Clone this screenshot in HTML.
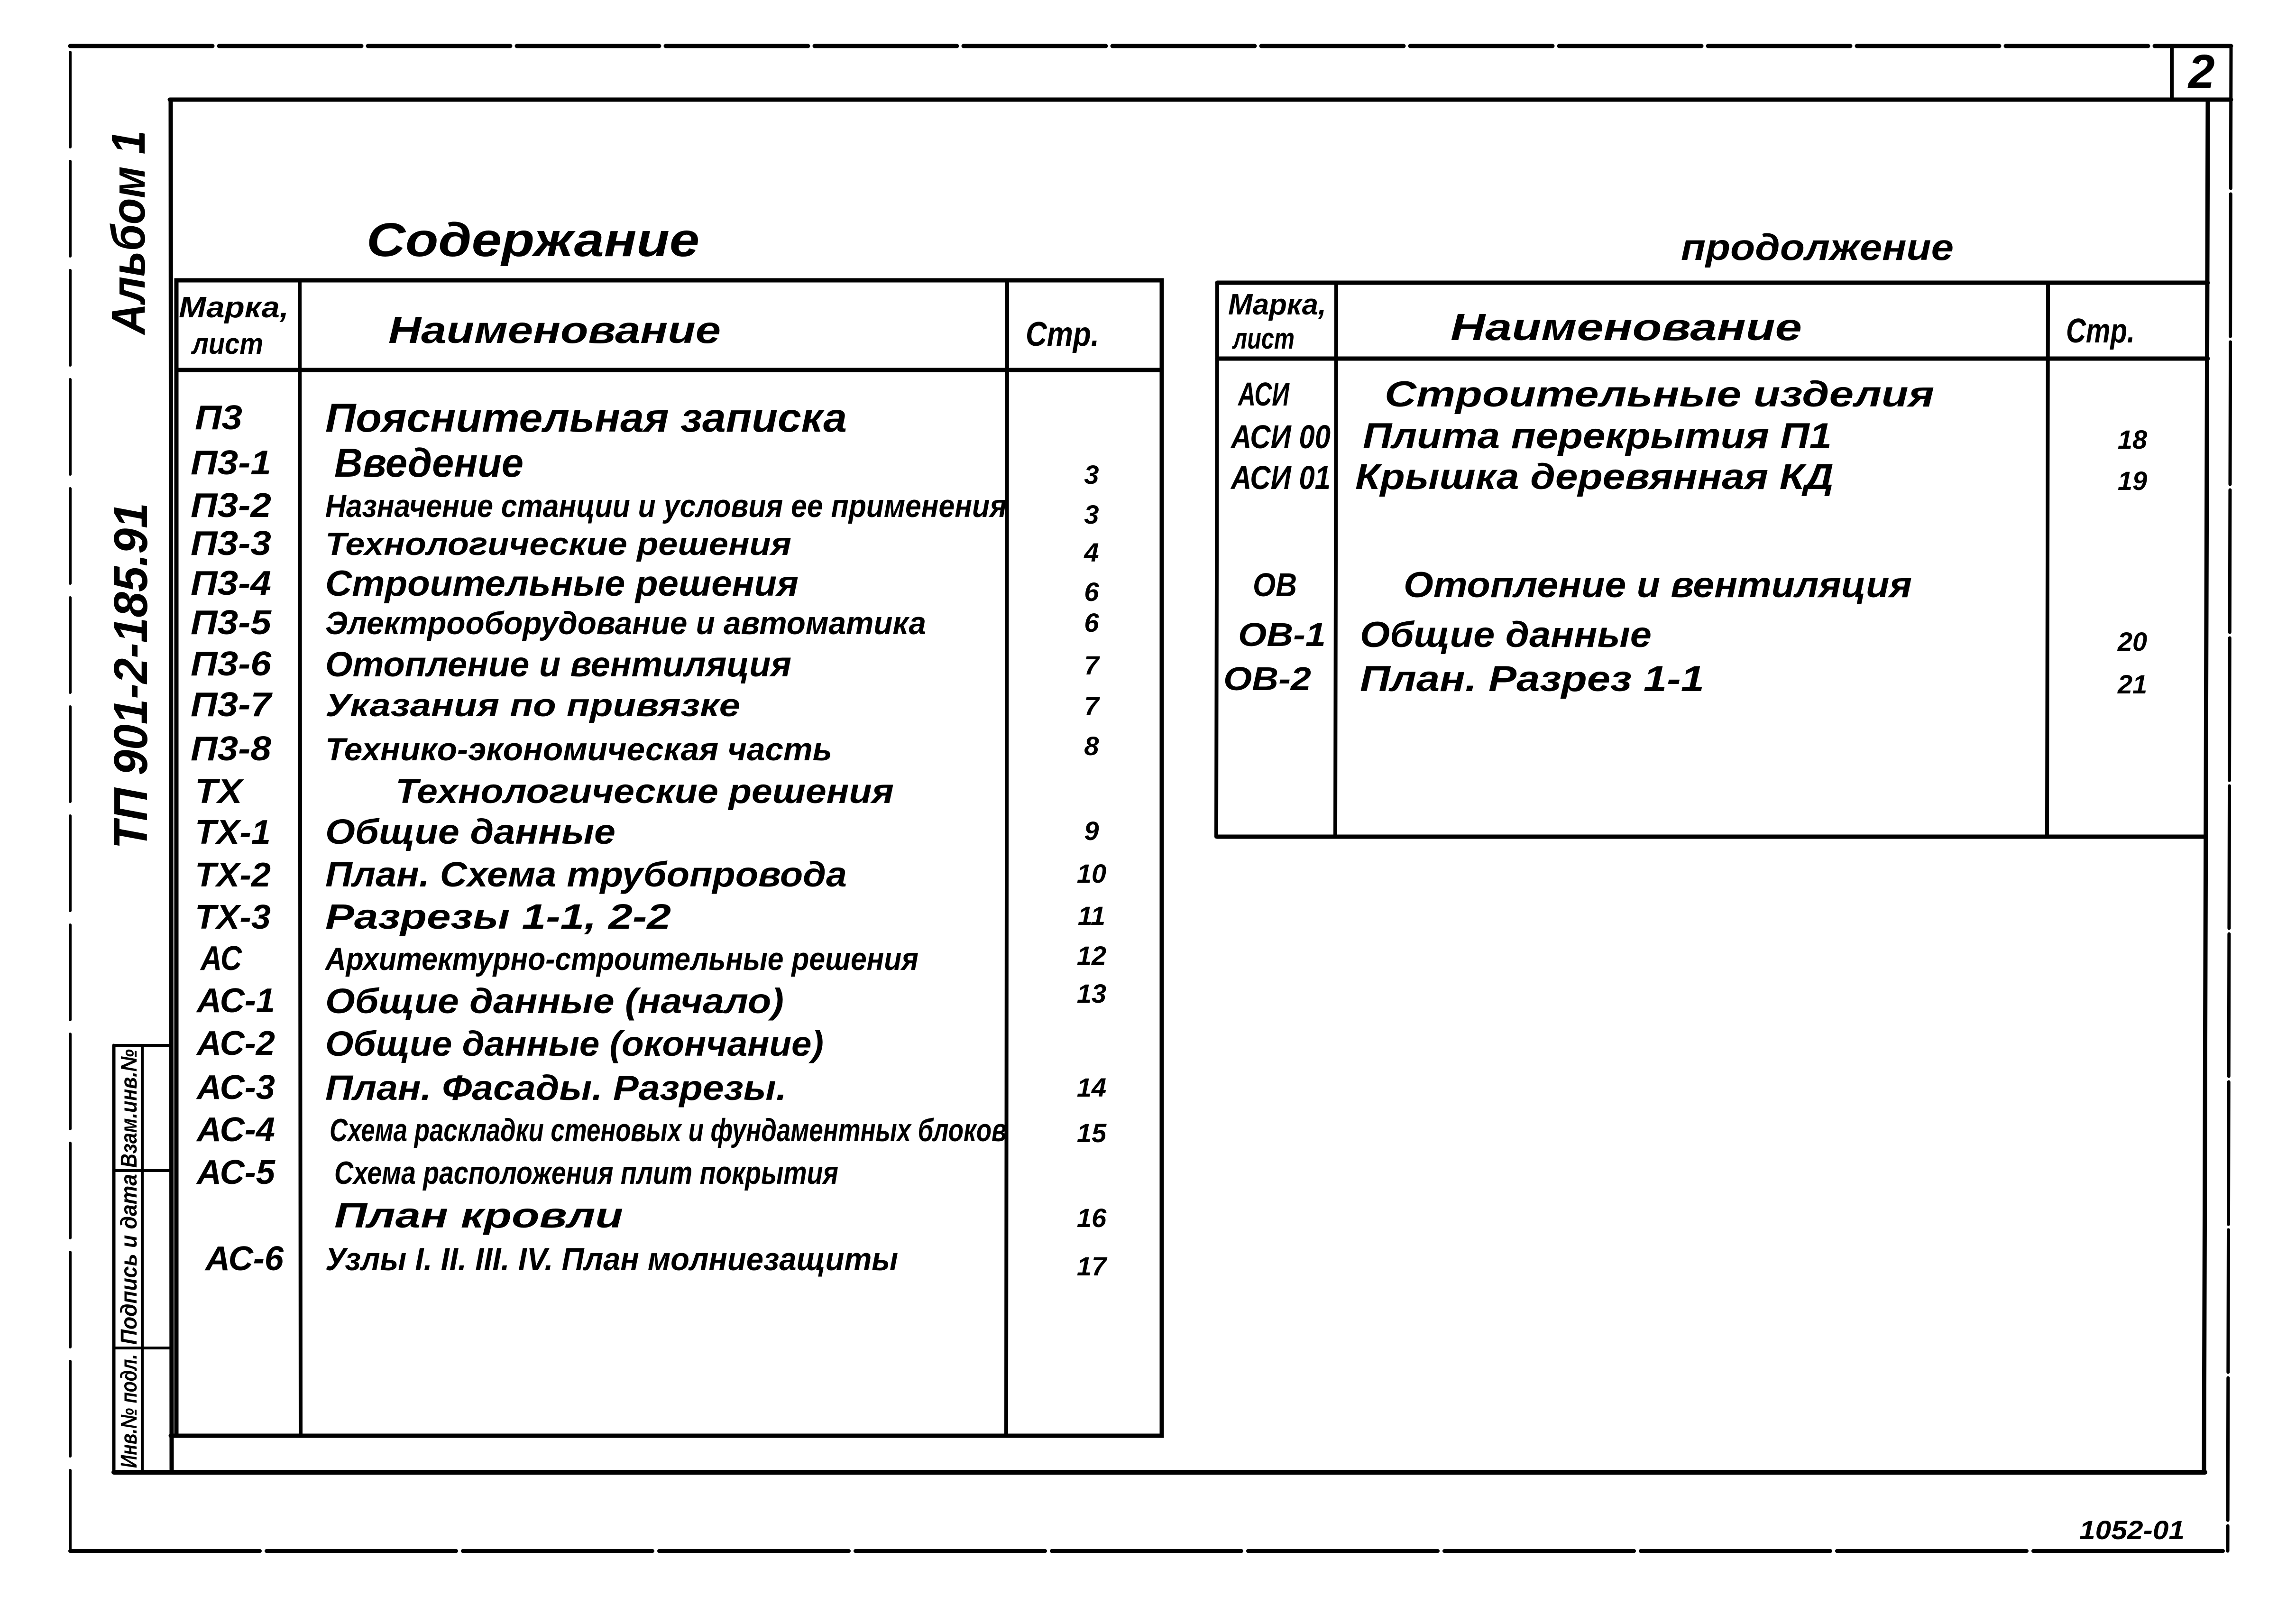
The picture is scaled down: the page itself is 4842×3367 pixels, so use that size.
<!DOCTYPE html>
<html><head><meta charset="utf-8"><style>
html,body{margin:0;padding:0;background:#fff}
svg{display:block}
text{font-family:"Liberation Sans","DejaVu Sans",sans-serif;font-style:italic;font-weight:bold;fill:#000}
</style></head><body>
<svg width="4842" height="3367" viewBox="0 0 4842 3367" xmlns="http://www.w3.org/2000/svg">
<g stroke="#000" fill="none" stroke-linecap="round">
<!-- outer border -->
<line x1="148" y1="97" x2="4705" y2="97" stroke-width="9" stroke-dasharray="300 14"/>
<line x1="148" y1="110" x2="148" y2="3270" stroke-width="6" stroke-dasharray="200 30"/>
<line x1="148" y1="3270" x2="4696" y2="3270" stroke-width="8" stroke-dasharray="400 14"/>
<line x1="4705" y1="97" x2="4698" y2="3270" stroke-width="7" stroke-dasharray="300 12"/>
<!-- page box -->
<line x1="358" y1="210" x2="4705" y2="210" stroke-width="9"/>
<line x1="4580" y1="100" x2="4580" y2="210" stroke-width="8"/>
<!-- inner frame -->
<line x1="360" y1="210" x2="362" y2="3104" stroke-width="9"/>
<line x1="240" y1="3104" x2="4650" y2="3104" stroke-width="10"/>
<line x1="4656" y1="210" x2="4648" y2="3104" stroke-width="9"/>
<!-- stamp strip -->
<line x1="240" y1="2204" x2="240" y2="3104" stroke-width="7"/>
<line x1="300" y1="2204" x2="300" y2="3104" stroke-width="6"/>
<line x1="240" y1="2204" x2="360" y2="2204" stroke-width="6"/>
<line x1="240" y1="2468" x2="360" y2="2468" stroke-width="6"/>
<line x1="240" y1="2842" x2="360" y2="2842" stroke-width="6"/>
<!-- left table -->
<rect x="372" y="591" width="2078" height="2436" stroke-width="9"/>
<line x1="360" y1="3027" x2="2450" y2="3027" stroke-width="9"/>
<line x1="372" y1="780" x2="2450" y2="780" stroke-width="9"/>
<line x1="632" y1="591" x2="634" y2="3027" stroke-width="8"/>
<line x1="2124" y1="591" x2="2122" y2="3027" stroke-width="8"/>
<!-- right table -->
<line x1="2567" y1="596" x2="4656" y2="596" stroke-width="9"/>
<line x1="2567" y1="756" x2="4656" y2="756" stroke-width="9"/>
<line x1="2567" y1="1764" x2="4652" y2="1764" stroke-width="9"/>
<line x1="2567" y1="596" x2="2565" y2="1764" stroke-width="8"/>
<line x1="2818" y1="596" x2="2816" y2="1764" stroke-width="8"/>
<line x1="4319" y1="596" x2="4317" y2="1764" stroke-width="8"/>
</g>

<text x="4615" y="185" font-size="100">2</text>

<!-- rotated left texts -->
<text transform="translate(305,705) rotate(-90)" font-size="100" textLength="430" lengthAdjust="spacingAndGlyphs">Альбом 1</text>
<text transform="translate(310,1790) rotate(-90)" font-size="100" textLength="730" lengthAdjust="spacingAndGlyphs">ТП 901-2-185.91</text>
<text transform="translate(288,3095) rotate(-90)" font-size="48" textLength="240" lengthAdjust="spacingAndGlyphs">Инв.№ подл.</text>
<text transform="translate(288,2835) rotate(-90)" font-size="48" textLength="360" lengthAdjust="spacingAndGlyphs">Подпись и дата</text>
<text transform="translate(288,2462) rotate(-90)" font-size="48" textLength="250" lengthAdjust="spacingAndGlyphs">Взам.инв.№</text>

<!-- titles -->
<text x="773" y="540" font-size="100" textLength="702" lengthAdjust="spacingAndGlyphs">Содержание</text>
<text x="3545" y="548" font-size="78" textLength="575" lengthAdjust="spacingAndGlyphs">продолжение</text>

<!-- left headers -->
<text x="377" y="669" font-size="62" textLength="232" lengthAdjust="spacingAndGlyphs">Марка,</text>
<text x="405" y="746" font-size="62" textLength="150" lengthAdjust="spacingAndGlyphs">лист</text>
<text x="819" y="723" font-size="80" textLength="701" lengthAdjust="spacingAndGlyphs">Наименование</text>
<text x="2163" y="729" font-size="72" textLength="155" lengthAdjust="spacingAndGlyphs">Стр.</text>
<!-- right headers -->
<text x="2590" y="663" font-size="62" textLength="207" lengthAdjust="spacingAndGlyphs">Марка,</text>
<text x="2600" y="735" font-size="62" textLength="130" lengthAdjust="spacingAndGlyphs">лист</text>
<text x="3059" y="717" font-size="80" textLength="741" lengthAdjust="spacingAndGlyphs">Наименование</text>
<text x="4357" y="722" font-size="72" textLength="145" lengthAdjust="spacingAndGlyphs">Стр.</text>

<!-- left marks -->
<g font-size="72">
<text x="411" y="905" textLength="100" lengthAdjust="spacingAndGlyphs">П3</text>
<text x="402" y="1000" textLength="170" lengthAdjust="spacingAndGlyphs">П3-1</text>
<text x="402" y="1090" textLength="170" lengthAdjust="spacingAndGlyphs">П3-2</text>
<text x="402" y="1170" textLength="170" lengthAdjust="spacingAndGlyphs">П3-3</text>
<text x="402" y="1254" textLength="170" lengthAdjust="spacingAndGlyphs">П3-4</text>
<text x="402" y="1337" textLength="170" lengthAdjust="spacingAndGlyphs">П3-5</text>
<text x="402" y="1424" textLength="170" lengthAdjust="spacingAndGlyphs">П3-6</text>
<text x="402" y="1510" textLength="170" lengthAdjust="spacingAndGlyphs">П3-7</text>
<text x="402" y="1603" textLength="170" lengthAdjust="spacingAndGlyphs">П3-8</text>
<text x="411" y="1693" textLength="100" lengthAdjust="spacingAndGlyphs">ТХ</text>
<text x="411" y="1779" textLength="160" lengthAdjust="spacingAndGlyphs">ТХ-1</text>
<text x="411" y="1869" textLength="160" lengthAdjust="spacingAndGlyphs">ТХ-2</text>
<text x="411" y="1958" textLength="160" lengthAdjust="spacingAndGlyphs">ТХ-3</text>
<text x="423" y="2045" textLength="87" lengthAdjust="spacingAndGlyphs">АС</text>
<text x="415" y="2134" textLength="165" lengthAdjust="spacingAndGlyphs">АС-1</text>
<text x="415" y="2224" textLength="165" lengthAdjust="spacingAndGlyphs">АС-2</text>
<text x="415" y="2317" textLength="165" lengthAdjust="spacingAndGlyphs">АС-3</text>
<text x="415" y="2406" textLength="165" lengthAdjust="spacingAndGlyphs">АС-4</text>
<text x="415" y="2496" textLength="165" lengthAdjust="spacingAndGlyphs">АС-5</text>
<text x="433" y="2678" textLength="165" lengthAdjust="spacingAndGlyphs">АС-6</text>
</g>

<!-- left names -->
<g font-size="68">
<text x="686" y="910" font-size="85" textLength="1100" lengthAdjust="spacingAndGlyphs">Пояснительная записка</text>
<text x="705" y="1005" font-size="85" textLength="399" lengthAdjust="spacingAndGlyphs">Введение</text>
<text x="686" y="1090" textLength="1437" lengthAdjust="spacingAndGlyphs">Назначение станции и условия ее применения</text>
<text x="686" y="1170" textLength="983" lengthAdjust="spacingAndGlyphs">Технологические решения</text>
<text x="686" y="1256" font-size="76" textLength="998" lengthAdjust="spacingAndGlyphs">Строительные решения</text>
<text x="686" y="1337" textLength="1267" lengthAdjust="spacingAndGlyphs">Электрооборудование и автоматика</text>
<text x="686" y="1426" font-size="74" textLength="983" lengthAdjust="spacingAndGlyphs">Отопление и вентиляция</text>
<text x="686" y="1510" textLength="875" lengthAdjust="spacingAndGlyphs">Указания по привязке</text>
<text x="686" y="1603" textLength="1069" lengthAdjust="spacingAndGlyphs">Технико-экономическая часть</text>
<text x="834" y="1693" font-size="72" textLength="1051" lengthAdjust="spacingAndGlyphs">Технологические решения</text>
<text x="686" y="1779" font-size="74" textLength="612" lengthAdjust="spacingAndGlyphs">Общие данные</text>
<text x="686" y="1869" font-size="74" textLength="1100" lengthAdjust="spacingAndGlyphs">План. Схема трубопровода</text>
<text x="686" y="1958" font-size="74" textLength="729" lengthAdjust="spacingAndGlyphs">Разрезы 1-1, 2-2</text>
<text x="686" y="2045" textLength="1251" lengthAdjust="spacingAndGlyphs">Архитектурно-строительные решения</text>
<text x="686" y="2136" font-size="74" textLength="967" lengthAdjust="spacingAndGlyphs">Общие данные (начало)</text>
<text x="686" y="2226" font-size="74" textLength="1051" lengthAdjust="spacingAndGlyphs">Общие данные (окончание)</text>
<text x="686" y="2319" font-size="74" textLength="973" lengthAdjust="spacingAndGlyphs">План. Фасады. Разрезы.</text>
<text x="695" y="2406" textLength="1428" lengthAdjust="spacingAndGlyphs">Схема раскладки стеновых и фундаментных блоков</text>
<text x="705" y="2496" textLength="1063" lengthAdjust="spacingAndGlyphs">Схема расположения плит покрытия</text>
<text x="705" y="2588" font-size="74" textLength="609" lengthAdjust="spacingAndGlyphs">План кровли</text>
<text x="686" y="2678" textLength="1208" lengthAdjust="spacingAndGlyphs">Узлы I. II. III. IV. План молниезащиты</text>
</g>

<!-- left pages -->
<g font-size="56" text-anchor="middle">
<text x="2302" y="1020">3</text>
<text x="2302" y="1104">3</text>
<text x="2302" y="1184">4</text>
<text x="2302" y="1267">6</text>
<text x="2302" y="1332">6</text>
<text x="2302" y="1422">7</text>
<text x="2302" y="1508">7</text>
<text x="2302" y="1592">8</text>
<text x="2302" y="1771">9</text>
<text x="2302" y="1861">10</text>
<text x="2302" y="1950">11</text>
<text x="2302" y="2034">12</text>
<text x="2302" y="2114">13</text>
<text x="2302" y="2312">14</text>
<text x="2302" y="2408">15</text>
<text x="2302" y="2587">16</text>
<text x="2302" y="2689">17</text>
</g>

<!-- right marks -->
<g font-size="70">
<text x="2611" y="855" textLength="108" lengthAdjust="spacingAndGlyphs">АСИ</text>
<text x="2596" y="945" textLength="210" lengthAdjust="spacingAndGlyphs">АСИ 00</text>
<text x="2596" y="1031" textLength="210" lengthAdjust="spacingAndGlyphs">АСИ 01</text>
<text x="2642" y="1257" textLength="93" lengthAdjust="spacingAndGlyphs">ОВ</text>
<text x="2611" y="1362" textLength="185" lengthAdjust="spacingAndGlyphs">ОВ-1</text>
<text x="2580" y="1455" textLength="185" lengthAdjust="spacingAndGlyphs">ОВ-2</text>
</g>
<g font-size="76">
<text x="2920" y="857" textLength="1159" lengthAdjust="spacingAndGlyphs">Строительные изделия</text>
<text x="2874" y="945" textLength="989" lengthAdjust="spacingAndGlyphs">Плита перекрытия П1</text>
<text x="2858" y="1031" textLength="1009" lengthAdjust="spacingAndGlyphs">Крышка деревянная КД</text>
<text x="2960" y="1259" textLength="1072" lengthAdjust="spacingAndGlyphs">Отопление и вентиляция</text>
<text x="2868" y="1364" textLength="615" lengthAdjust="spacingAndGlyphs">Общие данные</text>
<text x="2868" y="1457" textLength="726" lengthAdjust="spacingAndGlyphs">План. Разрез 1-1</text>
</g>
<g font-size="56" text-anchor="middle">
<text x="4497" y="946">18</text>
<text x="4497" y="1033">19</text>
<text x="4497" y="1372">20</text>
<text x="4497" y="1462">21</text>
</g>

<text x="4385" y="3245" font-size="56" textLength="222" lengthAdjust="spacingAndGlyphs">1052-01</text>
</svg>
</body></html>
